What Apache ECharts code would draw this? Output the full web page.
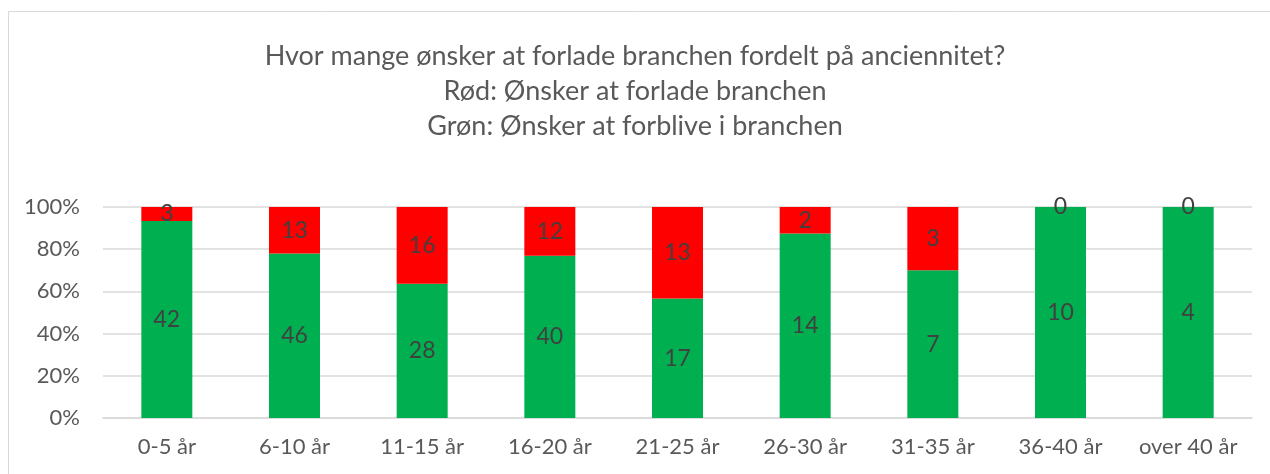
<!DOCTYPE html>
<html>
<head>
<meta charset="utf-8">
<script src="https://cdn.jsdelivr.net/npm/echarts@6/dist/echarts.min.js"></script>
<style>
  html, body { margin: 0; padding: 0; background: #fff; }
  #chart { width: 1270px; height: 474px; }
</style>
</head>
<body>
<div id="chart"></div>
<script>
const categories = ["0-5 år", "6-10 år", "11-15 år", "16-20 år", "21-25 år", "26-30 år", "31-35 år", "36-40 år", "over 40 år"];
const stayCounts = [42, 46, 28, 40, 17, 14, 7, 10, 4];   // grøn
const leaveCounts = [3, 13, 16, 12, 13, 2, 3, 0, 0];     // rød
const yTicks = [0, 20, 40, 60, 80, 100];

const totals = stayCounts.map((v, i) => v + leaveCounts[i]);
const pct = (arr) => arr.map((v, i) => (v / totals[i]) * 100);

const font = "Lato, 'Open Sans', sans-serif";
const chart = echarts.init(document.getElementById("chart"));

const labelFor = (counts) => ({
  show: true,
  position: "inside",
  color: "#404040",
  fontSize: 23,
  fontFamily: font,
  formatter: (p) => String(counts[p.dataIndex]),
});

chart.setOption({
  animation: false,
  title: {
    text: "Hvor mange ønsker at forlade branchen fordelt på anciennitet?\nRød: Ønsker at forlade branchen\nGrøn: Ønsker at forblive i branchen",
    left: "center",
    top: 34,
    textStyle: {
      color: "#595959",
      fontSize: 27,
      fontWeight: "normal",
      fontFamily: font,
      lineHeight: 35,
    },
  },
  graphic: [
    {
      type: "rect",
      shape: { x: 8.5, y: 11.5, width: 1300, height: 500 },
      style: { fill: "none", stroke: "#d9d9d9", lineWidth: 1 },
      silent: true,
    },
  ],
  grid: { left: 103, right: 18, top: 207, bottom: 56 },
  xAxis: {
    type: "category",
    data: categories,
    axisTick: { show: false },
    axisLine: { lineStyle: { color: "#d9d9d9", width: 1.5 } },
    axisLabel: {
      color: "#595959",
      fontSize: 22,
      fontFamily: font,
      margin: 18,
      interval: 0,
      hideOverlap: false,
    },
  },
  yAxis: {
    type: "value",
    min: yTicks[0],
    max: yTicks[yTicks.length - 1],
    interval: 20,
    splitLine: { lineStyle: { color: "#d9d9d9", width: 1.5 } },
    axisLabel: {
      color: "#595959",
      fontSize: 22,
      fontFamily: font,
      margin: 23,
      formatter: (v) => v + "%",
    },
  },
  series: [
    {
      name: "Grøn",
      type: "bar",
      stack: "total",
      barWidth: 51,
      itemStyle: { color: "#00b050" },
      label: labelFor(stayCounts),
      data: pct(stayCounts),
    },
    {
      name: "Rød",
      type: "bar",
      stack: "total",
      barWidth: 51,
      itemStyle: { color: "#ff0000" },
      label: labelFor(leaveCounts),
      data: pct(leaveCounts),
    },
  ],
});
</script>
</body>
</html>
